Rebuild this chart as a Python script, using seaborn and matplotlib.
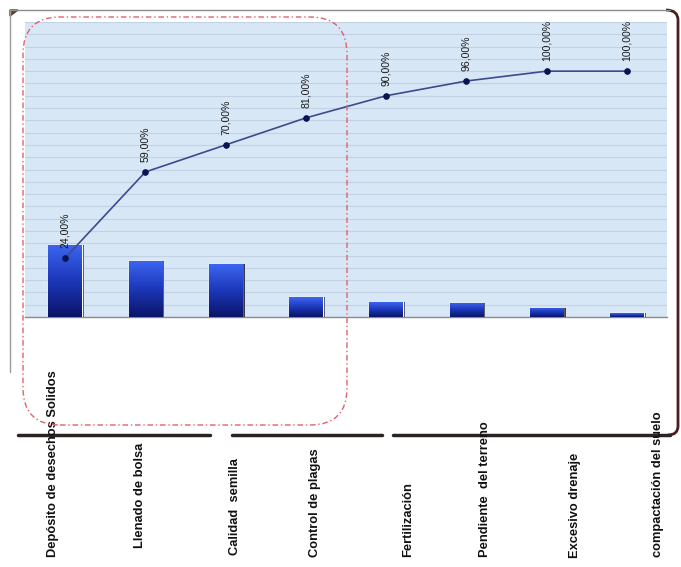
import numpy as np
import pandas as pd
import matplotlib
matplotlib.use("Agg")
import matplotlib.pyplot as plt
import matplotlib.patheffects as pe
from matplotlib.patches import FancyBboxPatch, PathPatch, Polygon
from matplotlib.path import Path
from matplotlib.lines import Line2D
from matplotlib.transforms import Affine2D
import seaborn as sns

# ---------------- data ----------------
categories = ["Depósito de desechos Solidos", "Llenado de bolsa", "Calidad  semilla",
              "Control de plagas", "Fertilización", "Pendiente  del terreno",
              "Excesivo drenaje", "compactación del suelo"]
frequency = [29.3, 22.8, 21.5, 8.1, 6.1, 5.7, 3.7, 1.6]
cumulative_pct = [24, 59, 70, 81, 90, 96, 100, 100]

sns.set_style("white")
plt.rcParams["font.family"] = ["Liberation Sans", "DejaVu Sans"]

W, H = 681, 567
fig = plt.figure(figsize=(W / 100, H / 100), dpi=100)
pix = Affine2D().scale(1 / W, 1 / H) + fig.transFigure  # pixel coords (origin bottom-left)

def py(y):  # image-space y (top origin) -> bottom origin
    return H - y

ax = fig.add_axes([25 / W, (H - 317) / H, (667 - 25) / W, (317 - 22) / H])
ax.set_facecolor("#d8e7f5")

df = pd.DataFrame({"cat": categories, "freq": frequency, "cum": cumulative_pct})
sns.barplot(data=df, x="cat", y="freq", ax=ax, width=0.42, color="#2340c0",
            saturation=1, zorder=3)

# gradient fill + right-side shadow on bars
grad = np.linspace(0, 1, 256).reshape(-1, 1)
cmap = matplotlib.colors.LinearSegmentedColormap.from_list(
    "barg", ["#0a1468", "#1c37b8", "#3d66f2"])
for p in ax.patches:
    p.set_path_effects([pe.SimplePatchShadow(offset=(1.6, 0), shadow_rgbFace="#262634",
                                             alpha=0.9), pe.Normal()])
    x0, y0 = p.get_x(), p.get_y()
    w, h = p.get_width(), p.get_height()
    im = ax.imshow(grad, extent=[x0, x0 + w, y0, y0 + h], origin="lower",
                   cmap=cmap, aspect="auto", zorder=4, interpolation="bilinear")
    im.set_clip_path(p)

# cumulative line
sns.lineplot(x=np.arange(len(categories)), y=cumulative_pct, ax=ax, color="#3c4a8e",
             linewidth=1.2, marker="o", markersize=4, markerfacecolor="#0c1450",
             markeredgecolor="#0c1450", zorder=6)
for i, v in enumerate(cumulative_pct):
    ax.annotate(f"{v:.2f}%".replace(".", ","), (i, v), xytext=(0, 7),
                textcoords="offset points", rotation=90, ha="center", va="bottom",
                fontsize=7.6, color="#1a1a1a", zorder=7)

ax.set_xlim(-0.5, len(categories) - 0.5)
ax.set_ylim(0, 120)
ax.set_yticks(np.arange(0, 121, 5))
ax.set_yticklabels([])
ax.tick_params(axis="y", length=0)
ax.grid(axis="y", color="#c2d1e3", linewidth=0.8, zorder=0)
ax.set_axisbelow(True)
ax.set_xticks(np.arange(len(categories)))
ax.set_xticklabels([])
ax.tick_params(axis="x", which="major", length=0)
ax.set_xticks(np.arange(len(categories)) + 0.5, minor=True)
ax.tick_params(axis="x", which="minor", length=4, width=0.8, color="#8a8a8a",
               direction="out")
ax.set_xlabel("")
ax.set_ylabel("")
for s in ["top", "right", "left"]:
    ax.spines[s].set_visible(False)
ax.spines["bottom"].set_color("#8a8a8a")
ax.spines["bottom"].set_linewidth(1.0)

# category labels below the frame
label_x = [53, 140, 235, 315, 408, 485, 575, 658]
label_bottom = [557, 548, 555, 557, 557, 557, 558, 557]
for name, lx, lb in zip(categories, label_x, label_bottom):
    fig.text(lx / W, (H - lb) / H, name, rotation=90, ha="center", va="bottom",
             fontsize=9.3, fontweight="bold", color="#111111")

# frame around chart
fig.add_artist(Line2D([10, 670], [py(10), py(10)], transform=pix, color="#8c8c8c", lw=1))
fig.add_artist(Line2D([10, 10], [py(10), py(372)], transform=pix, color="#9a9a9a", lw=1))
fig.add_artist(Polygon([[10, py(10)], [18, py(10)], [10, py(16)]], closed=True,
                       transform=pix, color="#6a3a2a"))
right = Path([(666, py(10)), (678, py(10)), (678, py(20)), (678, py(426)),
              (678, py(435)), (668, py(435))],
             [Path.MOVETO, Path.CURVE3, Path.CURVE3, Path.LINETO, Path.CURVE3, Path.CURVE3])
fig.add_artist(PathPatch(right, transform=pix, fill=False, edgecolor="#4a1e1e", lw=2.0))
for a, b in [(18, 210), (232, 382), (393, 670)]:
    fig.add_artist(Line2D([a, b], [py(435), py(435)], transform=pix,
                          color="#2b2222", lw=2.5))

# red dash-dot highlight box
box = FancyBboxPatch((23, py(425)), 347 - 23, 425 - 17,
                     boxstyle="round,pad=0,rounding_size=37", transform=pix,
                     fill=False, edgecolor="#e0606e", lw=1.0,
                     linestyle=(0, (4, 2, 1, 2)), zorder=10)
fig.add_artist(box)

fig.savefig("out.png", dpi=100, facecolor="white")
